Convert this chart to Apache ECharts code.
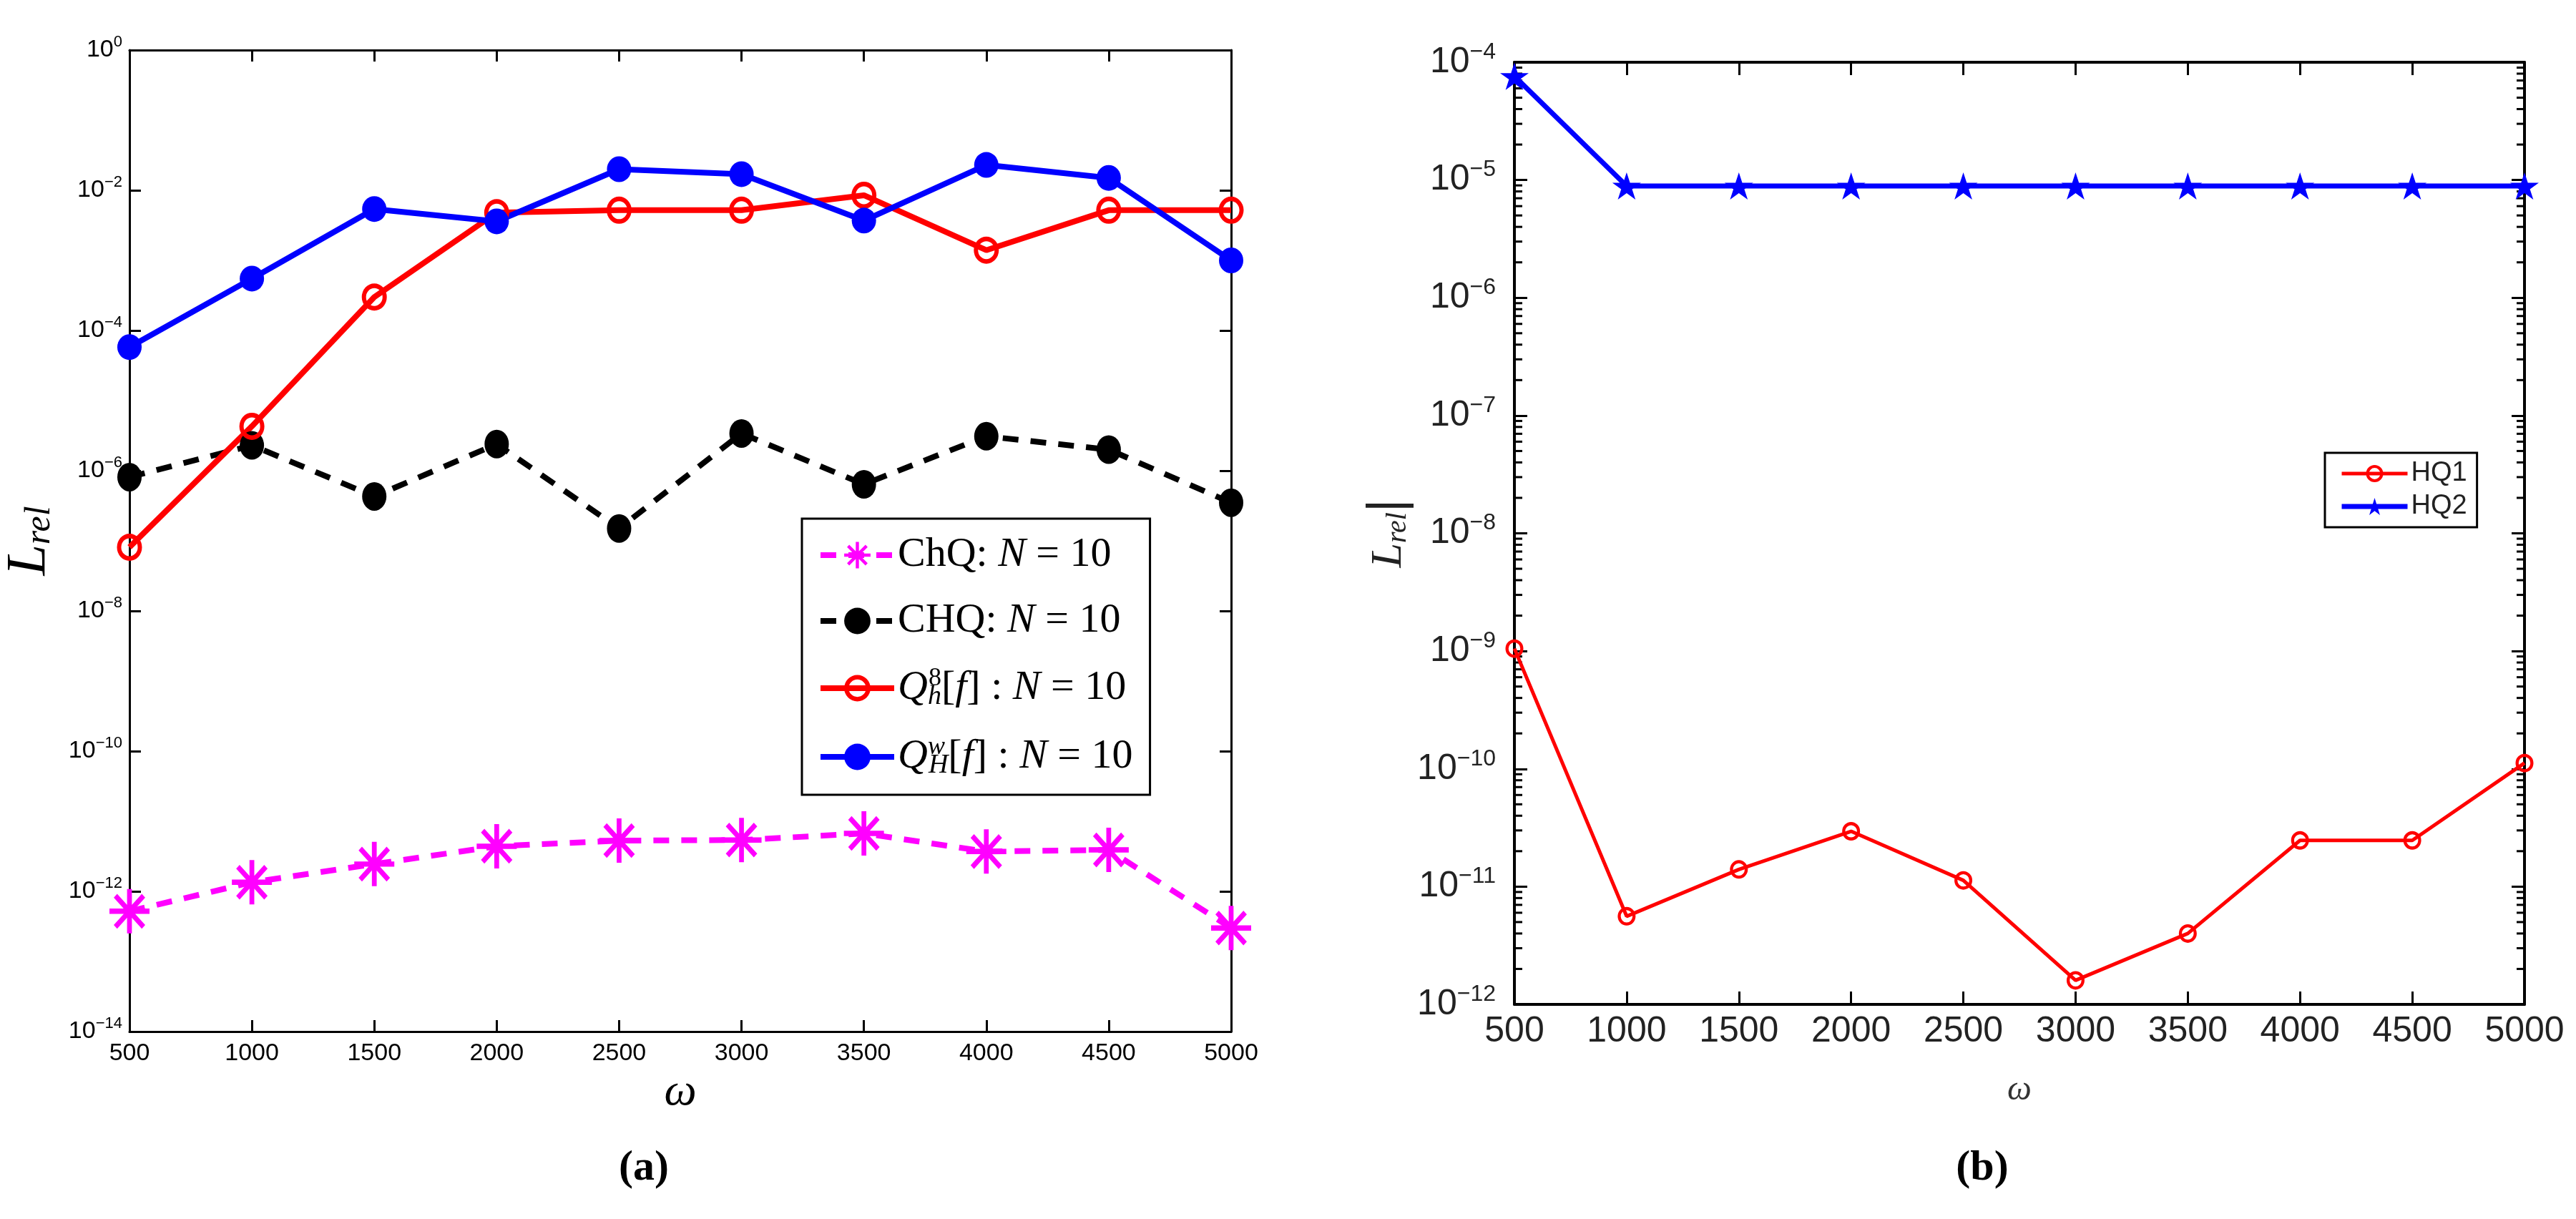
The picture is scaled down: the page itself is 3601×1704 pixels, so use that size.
<!DOCTYPE html>
<html>
<head>
<meta charset="utf-8">
<script src="https://cdn.jsdelivr.net/npm/echarts@6/dist/echarts.min.js"></script>
<style>
html, body { margin: 0; padding: 0; background: #fff; }
#main { width: 3601px; height: 1704px; }
</style>
</head>
<body>
<div id="main"></div>
<script>
// omega values shared by both panels
var omega = [500, 1000, 1500, 2000, 2500, 3000, 3500, 4000, 4500, 5000];
var xTicks = { min: 500, max: 5000, interval: 500 };

// panel (a)
var chqStar = [5.2e-13, 1.35e-12, 2.45e-12, 4.4e-12, 5.3e-12, 5.4e-12, 6.7e-12, 3.7e-12, 3.9e-12, 3.0e-13];
var chqDot  = [8.1e-7, 2.3e-6, 4.3e-7, 2.4e-6, 1.5e-7, 3.4e-6, 6.4e-7, 3.1e-6, 2.0e-6, 3.5e-7];
var qh8     = [8.1e-8, 4.3e-6, 3.0e-4, 4.8e-3, 5.2e-3, 5.2e-3, 8.5e-3, 1.4e-3, 5.2e-3, 5.2e-3];
var qHw     = [5.8e-5, 5.5e-4, 5.4e-3, 3.6e-3, 2.0e-2, 1.7e-2, 3.7e-3, 2.3e-2, 1.5e-2, 1.0e-3];
var legendA = ['ChQ', 'CHQ', 'Qh8', 'QHw'];

// panel (b)
var hq1 = [1.05e-9, 5.6e-12, 1.4e-11, 2.95e-11, 1.13e-11, 1.6e-12, 4.0e-12, 2.47e-11, 2.47e-11, 1.12e-10];
var hq2 = [7.6e-5, 8.9e-6, 8.9e-6, 8.9e-6, 8.9e-6, 8.9e-6, 8.9e-6, 8.9e-6, 8.9e-6, 8.9e-6];
var legendB = ['HQ1', 'HQ2'];

// marker shapes (matlab style)
var ASTERISK = 'path://M44 0L56 0L56 100L44 100Z M0 44L100 44L100 56L0 56Z ' +
    'M10.76 19.24L19.24 10.76L89.24 80.76L80.76 89.24Z M80.76 10.76L89.24 19.24L19.24 89.24L10.76 80.76Z';
var RING = 'path://M50 0A50 50 0 1 1 49.99 0Z M50 17A33 33 0 1 0 50.01 17Z';
var STAR = 'path://M50 0L61.23 34.55L97.55 34.55L68.16 55.9L79.39 90.45L50 69.1L20.61 90.45L31.84 55.9L2.45 34.55L38.77 34.55Z';

function pairs(ys) {
    return omega.map(function (w, i) { return [w, ys[i]]; });
}

function powLabel(v) {
    var e = Math.round(Math.log(v) / Math.LN10);
    var s = e < 0 ? '\u2212' + (-e) : String(e);
    return '{b|10}{e|' + s + '}';
}

function plainNum(v) {
    return String(v);
}

// minor ticks of panel (b), log positions 2..9 in every decade
var minorVals = [];
for (var d = -12; d < -4; d++) {
    for (var k = 2; k <= 9; k++) minorVals.push([500, k * Math.pow(10, d)]);
}

var legendTextA = {
    ChQ: '{r|ChQ: }{i|N}{r| = 10}',
    CHQ: '{r|CHQ: }{i|N}{r| = 10}',
    Qh8: '{i|Q}{sb1|h}{sp|8}{r|[}{i|f}{r|] : }{i|N}{r| = 10}',
    QHw: '{i|Q}{spw|w}{sb|H}{r|[}{i|f}{r|] : }{i|N}{r| = 10}'
};

var serif = 'Liberation Serif';
var sans = 'Liberation Sans';

function xAxisA(pos) {
    return {
        gridIndex: 0, type: 'value', position: pos, min: xTicks.min, max: xTicks.max, interval: xTicks.interval,
        axisLine: { onZero: false, lineStyle: { color: '#000', width: 3 } },
        axisTick: { inside: true, length: 16, lineStyle: { color: '#000', width: 3 } },
        axisLabel: { show: pos === 'bottom', color: '#000', fontFamily: sans, fontSize: 34, margin: 14, formatter: plainNum },
        splitLine: { show: false },
        name: pos === 'bottom' ? '\u03c9' : '', nameLocation: 'middle', nameGap: 48,
        nameTextStyle: { fontFamily: serif, fontStyle: 'italic', fontSize: 64, color: '#000' }
    };
}
function yAxisA(pos) {
    return {
        gridIndex: 0, type: 'log', logBase: 10, position: pos, min: 1e-14, max: 1, interval: 2,
        axisLine: { lineStyle: { color: '#000', width: 3 } },
        axisTick: { inside: true, length: 16, lineStyle: { color: '#000', width: 3 } },
        axisLabel: {
            show: pos === 'left', margin: 10, formatter: powLabel,
            rich: {
                b: { fontFamily: sans, fontSize: 34, lineHeight: 44, color: '#000' },
                e: { fontFamily: sans, fontSize: 22, lineHeight: 10, verticalAlign: 'top', color: '#000' }
            }
        },
        splitLine: { show: false }, minorTick: { show: false },
        name: pos === 'left' ? '{L|L}{s|rel}' : '', nameLocation: 'middle', nameGap: 100,
        nameTextStyle: {
            rich: {
                L: { fontFamily: serif, fontStyle: 'italic', fontSize: 78, lineHeight: 80, color: '#000' },
                s: { fontFamily: serif, fontStyle: 'italic', fontSize: 50, lineHeight: 40, verticalAlign: 'bottom', color: '#000' }
            }
        }
    };
}
function xAxisB(pos) {
    return {
        gridIndex: 1, type: 'value', position: pos, min: xTicks.min, max: xTicks.max, interval: xTicks.interval,
        axisLine: { onZero: false, lineStyle: { color: '#000', width: 4 } },
        axisTick: { inside: true, length: 18, lineStyle: { color: '#000', width: 3 } },
        axisLabel: { show: pos === 'bottom', color: '#222', fontFamily: sans, fontSize: 50, margin: 13, formatter: plainNum },
        splitLine: { show: false },
        name: pos === 'bottom' ? '\u03c9' : '', nameLocation: 'middle', nameGap: 96,
        nameTextStyle: { fontFamily: serif, fontStyle: 'italic', fontSize: 48, color: '#333' }
    };
}
function yAxisB(pos) {
    return {
        gridIndex: 1, type: 'log', logBase: 10, position: pos, min: 1e-12, max: 1e-4, interval: 1,
        axisLine: { lineStyle: { color: '#000', width: 4 } },
        axisTick: { inside: true, length: 18, lineStyle: { color: '#000', width: 3 } },
        axisLabel: {
            show: pos === 'left', margin: 26, formatter: powLabel,
            rich: {
                b: { fontFamily: sans, fontSize: 50, lineHeight: 60, color: '#222' },
                e: { fontFamily: sans, fontSize: 32, lineHeight: 14, verticalAlign: 'top', color: '#222' }
            }
        },
        splitLine: { show: false }, minorTick: { show: false },
        name: pos === 'left' ? '{L|L}{s|rel}{b||}' : '', nameLocation: 'middle', nameGap: 140,
        nameTextStyle: {
            rich: {
                L: { fontFamily: serif, fontStyle: 'italic', fontSize: 62, lineHeight: 66, color: '#222' },
                s: { fontFamily: serif, fontStyle: 'italic', fontSize: 40, lineHeight: 34, verticalAlign: 'bottom', color: '#222' },
                b: { fontFamily: sans, fontSize: 72, lineHeight: 66, color: '#222' }
            }
        }
    };
}

var chart = echarts.init(document.getElementById('main'));
var option = {
    animation: false,
    backgroundColor: '#fff',
    title: [
        { text: '(a)', left: 895, top: 1598, textAlign: 'center',
          textStyle: { fontFamily: serif, fontWeight: 'bold', fontSize: 60, color: '#000' } },
        { text: '(b)', left: 2766, top: 1598, textAlign: 'center',
          textStyle: { fontFamily: serif, fontWeight: 'bold', fontSize: 60, color: '#000' } }
    ],
    grid: [
        { left: 181, top: 70, width: 1540, height: 1372 },
        { left: 2117, top: 87, width: 1412, height: 1317 }
    ],
    legend: [
        {
            orient: 'vertical', left: 1121, top: 725, padding: [22, 24, 22, 22],
            itemWidth: 103, itemHeight: 46, itemGap: 34,
            borderColor: '#000', borderWidth: 3, backgroundColor: '#fff',
            selectedMode: false, data: legendA,
            formatter: function (name) { return legendTextA[name]; },
            lineStyle: { width: 'inherit' },
            textStyle: {
                color: '#000',
                rich: {
                    r: { fontFamily: serif, fontSize: 58, lineHeight: 62, color: '#000' },
                    i: { fontFamily: serif, fontStyle: 'italic', fontSize: 58, lineHeight: 62, color: '#000' },
                    sb1: { fontFamily: serif, fontStyle: 'italic', fontSize: 38, lineHeight: 22, verticalAlign: 'bottom', width: 1, color: '#000' },
                    sb: { fontFamily: serif, fontStyle: 'italic', fontSize: 38, lineHeight: 22, verticalAlign: 'bottom', color: '#000' },
                    sp: { fontFamily: serif, fontSize: 36, lineHeight: 22, verticalAlign: 'top', color: '#000' },
                    spw: { fontFamily: serif, fontStyle: 'italic', fontSize: 36, lineHeight: 22, verticalAlign: 'top', width: 1, color: '#000' }
                }
            }
        },
        {
            orient: 'vertical', left: 3250, top: 633, padding: [10, 14, 10, 20],
            itemWidth: 92, itemHeight: 30, itemGap: 8,
            borderColor: '#000', borderWidth: 3, backgroundColor: '#fff',
            selectedMode: false, data: legendB,
            lineStyle: { width: 'inherit' },
            textStyle: { fontFamily: sans, fontSize: 38, color: '#222' }
        }
    ],
    xAxis: [xAxisA('bottom'), xAxisA('top'), xAxisB('bottom'), xAxisB('top')],
    yAxis: [yAxisA('left'), yAxisA('right'), yAxisB('left'), yAxisB('right')],
    series: [
        {
            name: 'ChQ', type: 'line', xAxisIndex: 0, yAxisIndex: 0, data: pairs(chqStar), clip: false,
            symbol: ASTERISK, symbolSize: [56, 62],
            itemStyle: { color: '#ff00ff' },
            lineStyle: { color: '#ff00ff', width: 8, type: [22, 17] }
        },
        {
            name: 'CHQ', type: 'line', xAxisIndex: 0, yAxisIndex: 0, data: pairs(chqDot), clip: false,
            symbol: 'circle', symbolSize: [34, 40],
            itemStyle: { color: '#000000' },
            lineStyle: { color: '#000000', width: 8, type: [22, 17] }
        },
        {
            name: 'Qh8', type: 'line', xAxisIndex: 0, yAxisIndex: 0, data: pairs(qh8), clip: false,
            symbol: RING, symbolSize: [35, 38],
            itemStyle: { color: '#ff0000' },
            lineStyle: { color: '#ff0000', width: 8 }
        },
        {
            name: 'QHw', type: 'line', xAxisIndex: 0, yAxisIndex: 0, data: pairs(qHw), clip: false,
            symbol: 'circle', symbolSize: [34, 36],
            itemStyle: { color: '#0000ff' },
            lineStyle: { color: '#0000ff', width: 8 }
        },
        {
            name: 'HQ1', type: 'line', xAxisIndex: 2, yAxisIndex: 2, data: pairs(hq1), clip: false,
            symbol: RING, symbolSize: [25, 26],
            itemStyle: { color: '#ff0000' },
            lineStyle: { color: '#ff0000', width: 5 }
        },
        {
            name: 'HQ2', type: 'line', xAxisIndex: 2, yAxisIndex: 2, data: pairs(hq2), clip: false,
            symbol: STAR, symbolSize: [40, 40], symbolKeepAspect: true,
            itemStyle: { color: '#0000ff' },
            lineStyle: { color: '#0000ff', width: 7 }
        },
        {
            // log minor ticks on both sides of panel (b)
            type: 'custom', xAxisIndex: 2, yAxisIndex: 2, data: minorVals, silent: true, clip: false,
            renderItem: function (params, api) {
                var v = api.value(1);
                var pl = api.coord([500, v]);
                var pr = api.coord([5000, v]);
                var st = { stroke: '#000', lineWidth: 3 };
                return {
                    type: 'group',
                    children: [
                        { type: 'line', shape: { x1: pl[0], y1: pl[1], x2: pl[0] + 11, y2: pl[1] }, style: st },
                        { type: 'line', shape: { x1: pr[0] - 11, y1: pr[1], x2: pr[0], y2: pr[1] }, style: st }
                    ]
                };
            }
        }
    ]
};
chart.setOption(option);
</script>
</body>
</html>
